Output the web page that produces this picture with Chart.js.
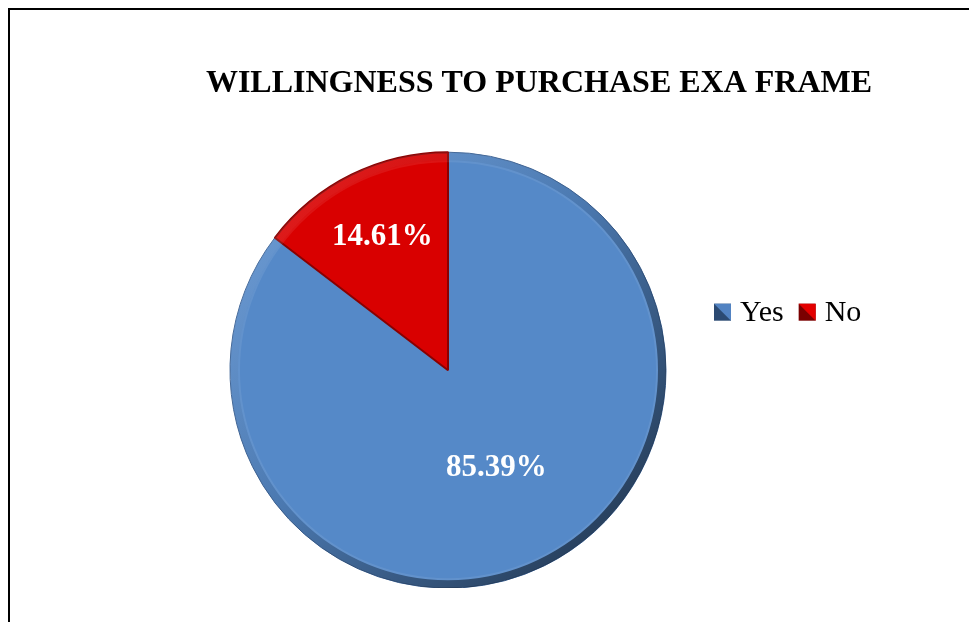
<!DOCTYPE html>
<html>
<head>
<meta charset="utf-8">
<title>Willingness to purchase</title>
<script src="https://cdn.jsdelivr.net/npm/chart.js@4.4.1/dist/chart.umd.min.js"></script>
<style>
  html, body { margin: 0; padding: 0; background: #fff; overflow: hidden; }
  #frame {
    position: absolute; left: 8px; top: 8px;
    width: 1058px; height: 640px;
    border: 2px solid #000; background: #fff;
  }
  #frame canvas { display: block; }
</style>
</head>
<body>
<div id="frame"><canvas id="pieChart" width="1058" height="578"></canvas></div>
<script>
// survey answers
const chartTitle = 'WILLINGNESS TO PURCHASE EXA FRAME';
const categories = ['Yes', 'No'];
const shares = [85.39, 14.61];

// look of the slices
const sliceColors = ['#5589C8', '#D90000'];
const edgeColors = ['#3F6597', '#8A0000'];
const keyLight = ['#5283C2', '#E30000'];
const keyDark = ['#2B4A72', '#7A0000'];

const PIE_RADIUS = 218;
const SERIF = '"Liberation Serif", "Times New Roman", serif';

// bevelled rim: lit from the top left, shaded to the bottom right
const rimShade = {
  id: 'rimShade',
  afterDatasetsDraw(chart) {
    const arc = chart.getDatasetMeta(0).data[0];
    if (!arc) return;
    const ctx = chart.ctx;
    const r = arc.outerRadius;
    const band = 8;
    const g = ctx.createLinearGradient(arc.x - r * 0.7, arc.y - r * 0.7, arc.x + r * 0.7, arc.y + r * 0.7);
    g.addColorStop(0, 'rgba(255,255,255,0.10)');
    g.addColorStop(0.45, 'rgba(0,0,0,0.12)');
    g.addColorStop(1, 'rgba(0,0,0,0.52)');
    ctx.save();
    ctx.beginPath();
    ctx.arc(arc.x, arc.y, r, 0, Math.PI * 2);
    ctx.arc(arc.x, arc.y, r - band, 0, Math.PI * 2, true);
    ctx.fillStyle = g;
    ctx.fill();
    // faint highlight along the inside of the rim
    ctx.beginPath();
    ctx.arc(arc.x, arc.y, r - band - 1, 0, Math.PI * 2);
    ctx.strokeStyle = 'rgba(255,255,255,0.08)';
    ctx.lineWidth = 2;
    ctx.stroke();
    ctx.restore();
  }
};

// percentages written inside the slices
const sliceLabels = {
  id: 'sliceLabels',
  afterDatasetsDraw(chart, args, opts) {
    const ctx = chart.ctx;
    const values = chart.data.datasets[0].data;
    ctx.save();
    ctx.font = 'bold 31px ' + SERIF;
    ctx.fillStyle = '#fff';
    ctx.textAlign = 'center';
    ctx.textBaseline = 'middle';
    chart.getDatasetMeta(0).data.forEach((arc, i) => {
      const mid = (arc.startAngle + arc.endAngle) / 2;
      const r = arc.outerRadius * opts.radius[i];
      ctx.fillText(values[i].toFixed(2) + '%', arc.x + Math.cos(mid) * r, arc.y + Math.sin(mid) * r);
    });
    ctx.restore();
  }
};

// one-row legend to the right of the pie; its box also keeps the pie off-centre
function drawKey(chart) {
  const arc = chart.getDatasetMeta(0).data[0];
  if (!arc) return;
  const ctx = chart.ctx;
  const size = 17;
  let x = arc.x + arc.outerRadius + 48;
  const y = arc.y - 58;
  ctx.save();
  ctx.font = '30px ' + SERIF;
  ctx.textBaseline = 'middle';
  chart.data.labels.forEach((label, i) => {
    const top = y - size / 2;
    ctx.fillStyle = keyDark[i];
    ctx.fillRect(x, top, size, size);
    ctx.fillStyle = keyLight[i];
    ctx.beginPath();
    ctx.moveTo(x, top);
    ctx.lineTo(x + size, top);
    ctx.lineTo(x + size, top + size);
    ctx.closePath();
    ctx.fill();
    ctx.fillStyle = '#000';
    ctx.fillText(label, x + size + 9, y + 1);
    x += size + 9 + ctx.measureText(label).width + 15;
  });
  ctx.restore();
}

const sideKey = {
  id: 'sideKey',
  beforeInit(chart) {
    Chart.layouts.addBox(chart, {
      position: 'right',
      weight: 1000,
      fullSize: false,
      options: {},
      left: 0, top: 0, right: 0, bottom: 0, width: 0, height: 0,
      isHorizontal() { return false; },
      update(maxWidth, maxHeight) {
        this.width = 182;
        this.height = maxHeight;
      },
      draw() { drawKey(chart); }
    });
  }
};

const ctx = document.getElementById('pieChart').getContext('2d');
const chart = new Chart(ctx, {
  type: 'pie',
  data: {
    labels: categories,
    datasets: [{
      data: shares,
      backgroundColor: sliceColors,
      borderColor: edgeColors,
      borderWidth: [1, 2],
      radius: PIE_RADIUS
    }]
  },
  options: {
    responsive: false,
    animation: false,
    events: [],
    layout: { padding: 0 },
    plugins: {
      legend: { display: false },
      tooltip: { enabled: false },
      title: {
        display: true,
        text: chartTitle,
        color: '#000',
        font: { family: SERIF, size: 32, weight: 'bold' },
        padding: { top: 55, bottom: 49 }
      },
      sliceLabels: { radius: [0.5, 0.68] }
    }
  },
  plugins: [rimShade, sliceLabels, sideKey]
});
</script>
</body>
</html>
